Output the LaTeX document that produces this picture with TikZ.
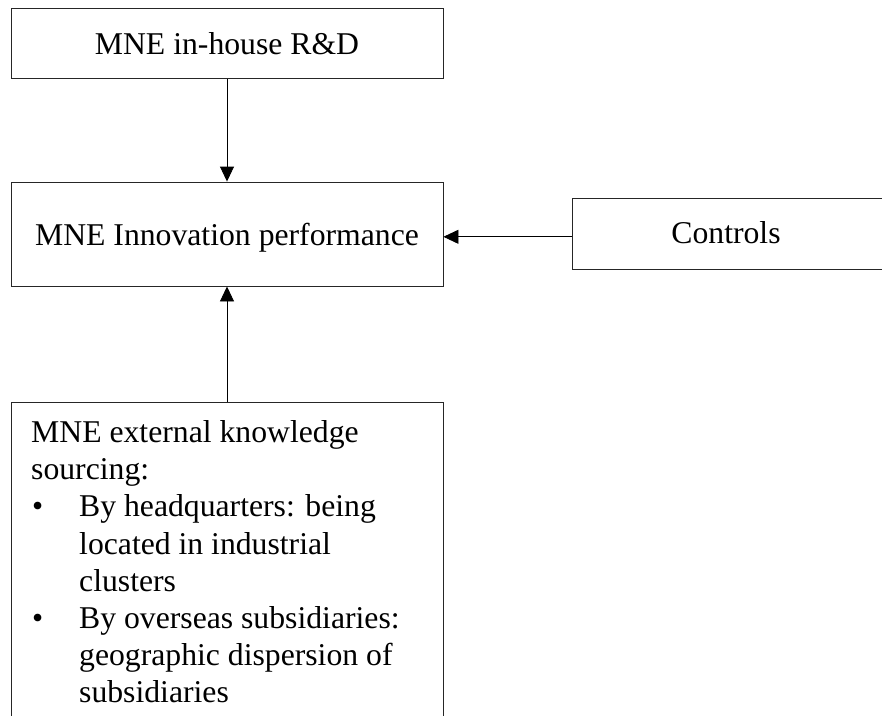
\documentclass[tikz,border=0pt]{standalone}
\usepackage{fontspec}
\setmainfont{Liberation Serif}
\usetikzlibrary{arrows.meta}

\tikzset{
  box/.style={draw=black!85, line width=0.9pt, fill=white, inner sep=0pt,
              text depth=0pt, font=\fontsize{31.7}{37}\selectfont},
  link/.style={draw=black, line width=0.9pt, -{Triangle[length=15pt,width=14pt]}},
}

\begin{document}
\begin{tikzpicture}[x=1pt, y=-1pt]
  \useasboundingbox (0,0) rectangle (882,715);
  \clip (0,0) rectangle (882,715);

  % boxes
  \node[box, minimum width=432pt, minimum height=70pt] (rd) at (227,43.5) {MNE in-house R\&D};
  \node[box, minimum width=432pt, minimum height=104pt] (perf) at (227,234) {MNE Innovation performance};
  \node[box, minimum width=318pt, minimum height=70.5pt] (ctrl) at (731,233.8) {};
  \node[font=\fontsize{31.7}{37}\selectfont, inner sep=0pt, text depth=0pt] (ctrltext) at (726,232.5) {Controls};
  \node[box, anchor=north, minimum width=432pt, minimum height=340pt] (ext) at (227,402) {};

  % text of the sourcing box
  \node[anchor=base west, inner sep=0pt, font=\fontsize{31.7}{37.1}\selectfont] (exttext) at (31,442.7)
    {\parbox[t]{420pt}{\raggedright
      MNE external knowledge\\
      sourcing:\\
      \makebox[48pt][l]{\kern1pt\textbullet}By headquarters: being\\
      \hspace*{48pt}located in industrial\\
      \hspace*{48pt}clusters\\
      \makebox[48pt][l]{\kern1pt\textbullet}By overseas subsidiaries:\\
      \hspace*{48pt}geographic dispersion of\\
      \hspace*{48pt}subsidiaries}};

  % connectors
  \draw[link] (rd.south) -- (perf.north);
  \draw[link] (ext.north) -- (perf.south);
  \draw[link] ([yshift=-3pt]ctrl.west) -- ([yshift=-3pt]ctrl.west -| perf.east);
\end{tikzpicture}
\end{document}
